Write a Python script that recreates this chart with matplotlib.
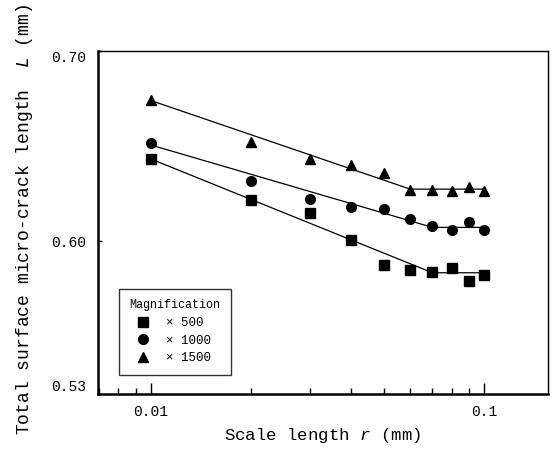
import matplotlib.pyplot as plt
from matplotlib.ticker import NullFormatter, NullLocator

plt.rcParams['font.family'] = ['Liberation Mono', 'DejaVu Sans']
plt.rcParams['mathtext.fontset'] = 'custom'
plt.rcParams['mathtext.it'] = 'Liberation Mono:italic'
plt.rcParams['mathtext.rm'] = 'Liberation Mono'

# scale length r (mm)
r = [0.01, 0.02, 0.03, 0.04, 0.05, 0.06, 0.07, 0.08, 0.09, 0.1]

# total surface micro-crack length L (mm) for each magnification
L_500 = [0.6413, 0.6205, 0.6138, 0.6007, 0.5887, 0.5860, 0.5850, 0.5871, 0.5807, 0.5839]
L_1000 = [0.6495, 0.6298, 0.6208, 0.6168, 0.6160, 0.6110, 0.6072, 0.6052, 0.6094, 0.6052]
L_1500 = [0.6724, 0.6501, 0.6414, 0.6380, 0.6338, 0.6256, 0.6256, 0.6247, 0.6270, 0.6251]

# fitted lines: sloped part then flat plateau
fit_r_500 = [0.01, 0.07, 0.1]
fit_L_500 = [0.6413, 0.5848, 0.5848]
fit_r_1000 = [0.01, 0.07, 0.1]
fit_L_1000 = [0.6486, 0.6067, 0.6067]
fit_r_1500 = [0.01, 0.06, 0.1]
fit_L_1500 = [0.6724, 0.6258, 0.6258]

labels = ['× 500', '× 1000', '× 1500']

fig = plt.figure(figsize=(5.52, 4.5), dpi=100)
ax = fig.add_axes([0.177, 0.124, 0.816, 0.763])

ax.plot(fit_r_500, fit_L_500, color='black', lw=0.9)
ax.plot(fit_r_1000, fit_L_1000, color='black', lw=0.9)
ax.plot(fit_r_1500, fit_L_1500, color='black', lw=0.9)

ax.plot(r, L_500, 's', color='black', ms=6.5, label=labels[0])
ax.plot(r, L_1000, 'o', color='black', ms=7, label=labels[1])
ax.plot(r, L_1500, '^', color='black', ms=7.5, label=labels[2])

ax.set_xscale('log')
ax.set_yscale('log')
ax.set_xlim(0.00693, 0.1556)
ax.set_ylim(0.53, 0.70)

ax.set_xticks([0.01, 0.1])
ax.set_xticklabels(['0.01', '0.1'])
ax.set_yticks([0.53, 0.60, 0.70])
ax.set_yticklabels(['0.53', '0.60', '0.70'])
ax.yaxis.set_minor_locator(NullLocator())
ax.yaxis.set_minor_formatter(NullFormatter())
ax.xaxis.set_minor_formatter(NullFormatter())

ax.tick_params(axis='x', which='major', direction='in', length=8, width=1,
               labelsize=10.5, pad=8)
ax.tick_params(axis='x', which='minor', direction='in', length=4, width=1)
ax.tick_params(axis='y', which='major', direction='in', length=3, width=1,
               labelsize=10.5, pad=8)

# end labels sit inside the axis range
ylabels = ax.get_yticklabels()
ylabels[0].set_va('bottom')
ylabels[-1].set_va('top')

for side in ['left', 'bottom']:
    ax.spines[side].set_linewidth(1.8)
for side in ['top', 'right']:
    ax.spines[side].set_linewidth(1.0)

ax.set_xlabel('Scale length $r$ (mm)', fontsize=12.5, labelpad=5)
ax.set_ylabel('Total surface micro-crack length  $L$ (mm)', fontsize=13)
ax.yaxis.set_label_coords(-0.14, 0.51)

leg = ax.legend(title='Magnification', loc='lower left',
                bbox_to_anchor=(0.047, 0.056), borderaxespad=0,
                fontsize=9, title_fontsize=8.5, frameon=True, fancybox=False,
                edgecolor='black', handlelength=2.2, handletextpad=0.7,
                borderpad=0.85, labelspacing=0.45, alignment='left')
leg.get_frame().set_linewidth(1.0)

fig.savefig('out.png', dpi=100)
